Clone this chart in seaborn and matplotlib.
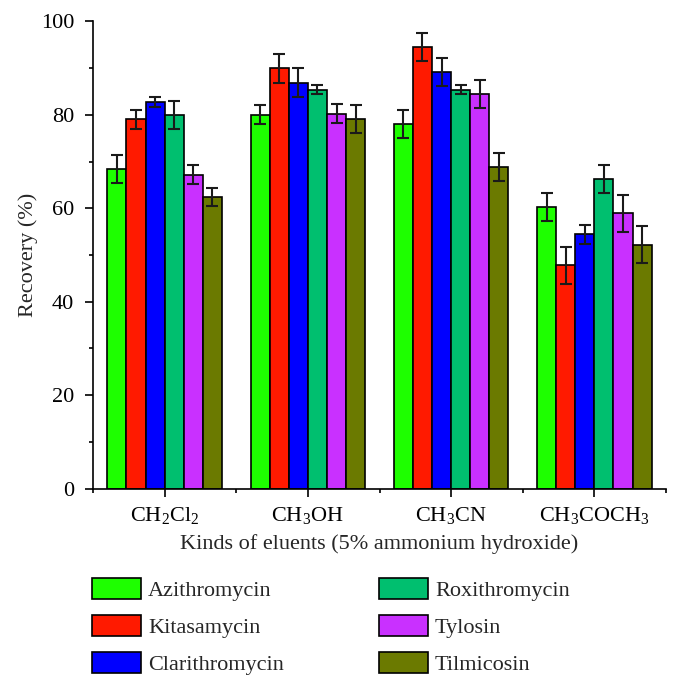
import matplotlib
matplotlib.use("Agg")
import matplotlib.pyplot as plt
from matplotlib.patches import Patch
import numpy as np
import pandas as pd
import seaborn as sns

ELUENTS = [r"CH$_2$Cl$_2$", r"CH$_3$OH", r"CH$_3$CN", r"CH$_3$COCH$_3$"]
DRUGS = ["Azithromycin", "Kitasamycin", "Clarithromycin", "Roxithromycin", "Tylosin", "Tilmicosin"]
COLORS = ["#1eff00", "#ff1a00", "#0000ff", "#00bf6f", "#c930ff", "#6b7a00"]

# recovery (%) per drug, one value per eluent
azithromycin = [68.4, 80.0, 78.0, 60.3]
kitasamycin = [79.0, 89.9, 94.5, 47.8]
clarithromycin = [82.7, 86.9, 89.2, 54.4]
roxithromycin = [80.0, 85.4, 85.4, 66.3]
tylosin = [67.2, 80.2, 84.5, 58.9]
tilmicosin = [62.4, 79.0, 68.8, 52.2]

# standard deviations
azithromycin_sd = [3.0, 2.0, 3.0, 3.0]
kitasamycin_sd = [2.0, 3.0, 3.0, 4.0]
clarithromycin_sd = [1.0, 3.0, 3.0, 2.0]
roxithromycin_sd = [3.0, 0.9, 1.0, 3.0]
tylosin_sd = [2.0, 2.0, 3.0, 4.0]
tilmicosin_sd = [2.0, 3.0, 3.0, 4.0]

values = [azithromycin, kitasamycin, clarithromycin, roxithromycin, tylosin, tilmicosin]
errors = [azithromycin_sd, kitasamycin_sd, clarithromycin_sd, roxithromycin_sd, tylosin_sd, tilmicosin_sd]

rows = []
for drug, vals, sds in zip(DRUGS, values, errors):
    for eluent, v, sd in zip(ELUENTS, vals, sds):
        rows.append({"eluent": eluent, "drug": drug, "recovery": v, "sd": sd})
df = pd.DataFrame(rows)

FS = 16

sns.set_theme(style="ticks")
plt.rcParams["font.family"] = ["Liberation Serif", "DejaVu Serif"]
plt.rcParams["mathtext.fontset"] = "custom"
plt.rcParams["mathtext.rm"] = "Liberation Serif"
plt.rcParams["mathtext.it"] = "Liberation Serif"
plt.rcParams["mathtext.default"] = "regular"

fig = plt.figure(figsize=(6.81, 6.89), dpi=100)
ax = fig.add_axes([0.1366, 0.2907, 0.8414, 0.6784])

sns.barplot(
    data=df, x="eluent", y="recovery", hue="drug",
    order=ELUENTS, hue_order=DRUGS, palette=COLORS,
    width=0.8, edgecolor="black", linewidth=1.2, saturation=1,
    errorbar=None, ax=ax,
)

for container, drug in zip(ax.containers, DRUGS):
    sub = df[df["drug"] == drug].set_index("eluent").loc[ELUENTS]
    xs = [b.get_x() + b.get_width() / 2 for b in container]
    ax.errorbar(xs, sub["recovery"], yerr=sub["sd"], fmt="none",
                ecolor="#1a1a1a", elinewidth=1.5, capsize=4, capthick=1.5, zorder=5)

ax.legend_.remove()

ax.set_xlim(-0.5, len(ELUENTS) - 0.5)
ax.set_ylim(0, 100)
ax.set_yticks(np.arange(0, 101, 20))
ax.set_yticks(np.arange(0, 101, 10), minor=True)
ax.set_xticks(np.arange(-0.5, len(ELUENTS), 1), minor=True)
ax.tick_params(axis="both", which="major", labelsize=FS, length=5.5, width=1.2,
               color="black", labelcolor="black")
ax.tick_params(axis="x", which="major", pad=6)
ax.tick_params(axis="y", which="major", pad=8)
ax.tick_params(axis="both", which="minor", length=3, width=1.2, color="black")
ax.set_xlabel("Kinds of eluents (5% ammonium hydroxide)", fontsize=FS, labelpad=6)
ax.set_ylabel("Recovery (%)", fontsize=FS, labelpad=2)
for s in ["top", "right"]:
    ax.spines[s].set_visible(False)
for s in ["left", "bottom"]:
    ax.spines[s].set_linewidth(1.2)
    ax.spines[s].set_color("black")

handles = [Patch(facecolor=c, edgecolor="black", linewidth=1.2) for c in COLORS]
leg_kw = dict(loc="upper left", frameon=False, fontsize=FS,
              handlelength=2.2, handleheight=1.08, handletextpad=0.32,
              labelspacing=0.62, borderaxespad=0, borderpad=0)
fig.legend(handles[:3], DRUGS[:3], bbox_to_anchor=(0.1351, 0.1606), **leg_kw)
fig.legend(handles[3:], DRUGS[3:], bbox_to_anchor=(0.5565, 0.1606), **leg_kw)

fig.savefig("out.png", dpi=100)
